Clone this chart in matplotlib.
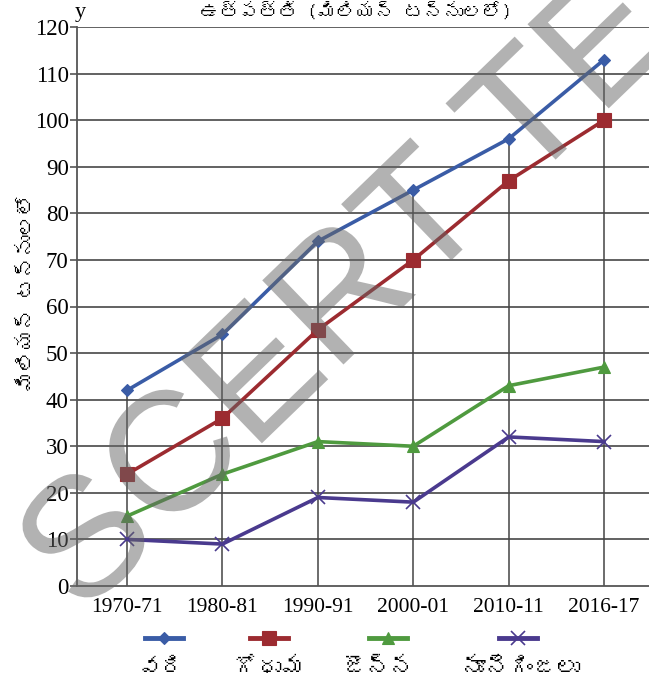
import numpy as np
import matplotlib.pyplot as plt
from matplotlib import font_manager
from matplotlib.ft2font import FT2Font
from matplotlib.lines import Line2D
from matplotlib.textpath import TextPath
from matplotlib.patches import PathPatch
from matplotlib.font_manager import FontProperties
from matplotlib.transforms import Affine2D

# datos
anios = ["1970-71", "1980-81", "1990-91", "2000-01", "2010-11", "2016-17"]
vari = [42, 54, 74, 85, 96, 113]
godhuma = [24, 36, 55, 70, 87, 100]
jonna = [15, 24, 31, 30, 43, 47]
nuunegingalu = [10, 9, 19, 18, 32, 31]

nombres = ["వరి", "గోధుమ", "జొన్న", "నూనెగింజలు"]
titulo = "ఉత్పత్తి (మిలియన్ టన్నులలో)"
etiqueta_y = "మిలియన్ టన్నులలో"

colores = ["#3a5ca6", "#9c2b30", "#4f9a3f", "#4a3a8e"]
marcadores = ["D", "s", "^", "x"]
tam_marc = [6, 10, 9, 10]

# buscar alguna fuente instalada con letras telugu
telugu = []
for f in font_manager.fontManager.ttflist:
    try:
        if 0x0C35 in FT2Font(f.fname).get_charmap() and f.name not in telugu:
            telugu.append(f.name)
    except Exception:
        pass
telugu = telugu + ["Noto Sans", "DejaVu Sans"]
serif = "Liberation Serif"

fig = plt.figure(figsize=(6.49, 6.91), dpi=100)
ax = fig.add_axes([77 / 649, 105 / 691, 1 - 77 / 649, 559 / 691])

x = np.arange(len(anios))
series = [vari, godhuma, jonna, nuunegingalu]

# lineas verticales desde el punto mas alto
ax.vlines(x, 0, np.max(series, axis=0), color="#444444", linewidth=1.1, zorder=2)
for val in range(10, 130, 10):
    ax.axhline(val, color="#555555", linewidth=1.3, zorder=1)

for serie, c, m, ms in zip(series, colores, marcadores, tam_marc):
    ax.plot(x, serie, color=c, linewidth=2.6, marker=m, markersize=ms,
            markeredgewidth=1.2 if m == "x" else 0.8, zorder=4)

ax.set_xlim(-0.524, 5.47)
ax.set_ylim(0, 120)
ax.set_yticks(range(0, 130, 10))
ax.set_xticks(x)
ax.set_xticklabels(anios, fontfamily=serif, fontsize=15.5)
ax.set_yticklabels([str(v) for v in range(0, 130, 10)], fontfamily=serif, fontsize=16.5)
ax.tick_params(axis="x", length=0, pad=9)
ax.tick_params(axis="y", length=5, width=1.2, color="#555555", pad=1)

for lado in ["top", "right"]:
    ax.spines[lado].set_visible(False)
ax.spines["left"].set_color("#555555")
ax.spines["left"].set_linewidth(1.3)
ax.spines["bottom"].set_color("#555555")
ax.spines["bottom"].set_linewidth(1.3)

fig.text(80 / 649, 1 - 12 / 691, "y", fontfamily=serif, fontsize=16, ha="center", va="center")
fig.text(356 / 649, 1 - 11 / 691, titulo, family=telugu, fontsize=14, ha="center", va="center")
fig.text(27 / 649, 1 - 292 / 691, etiqueta_y, family=telugu, fontsize=15,
         rotation=90, ha="center", va="center")

# leyenda: muestra arriba, nombre abajo
centros_linea = [164, 269, 388, 518]
centros_texto = [161, 270, 378, 521]
for i in range(4):
    cx = centros_linea[i] / 649
    cy = 1 - 638 / 691
    fig.add_artist(Line2D([cx - 19 / 649, cx + 19 / 649], [cy, cy],
                          transform=fig.transFigure, color=colores[i], linewidth=3.5))
    fig.add_artist(Line2D([cx], [cy], transform=fig.transFigure,
                          color=colores[i], marker=marcadores[i], markersize=tam_marc[i],
                          markeredgewidth=1.2 if marcadores[i] == "x" else 0.8))
    fig.text(centros_texto[i] / 649, 1 - 668 / 691, nombres[i], family=telugu,
             fontsize=17, ha="center", va="center")

# marca de agua
tp = TextPath((0, 0), "SCERT TELANGANA", size=170,
              prop=FontProperties(family="Liberation Sans"))
tr = Affine2D().rotate_deg(44).translate(82, 74)
fig.add_artist(PathPatch(tr.transform_path(tp), facecolor="#666666", edgecolor="none",
                         alpha=0.5, transform=None, zorder=3))

fig.savefig("out.png", dpi=100)
